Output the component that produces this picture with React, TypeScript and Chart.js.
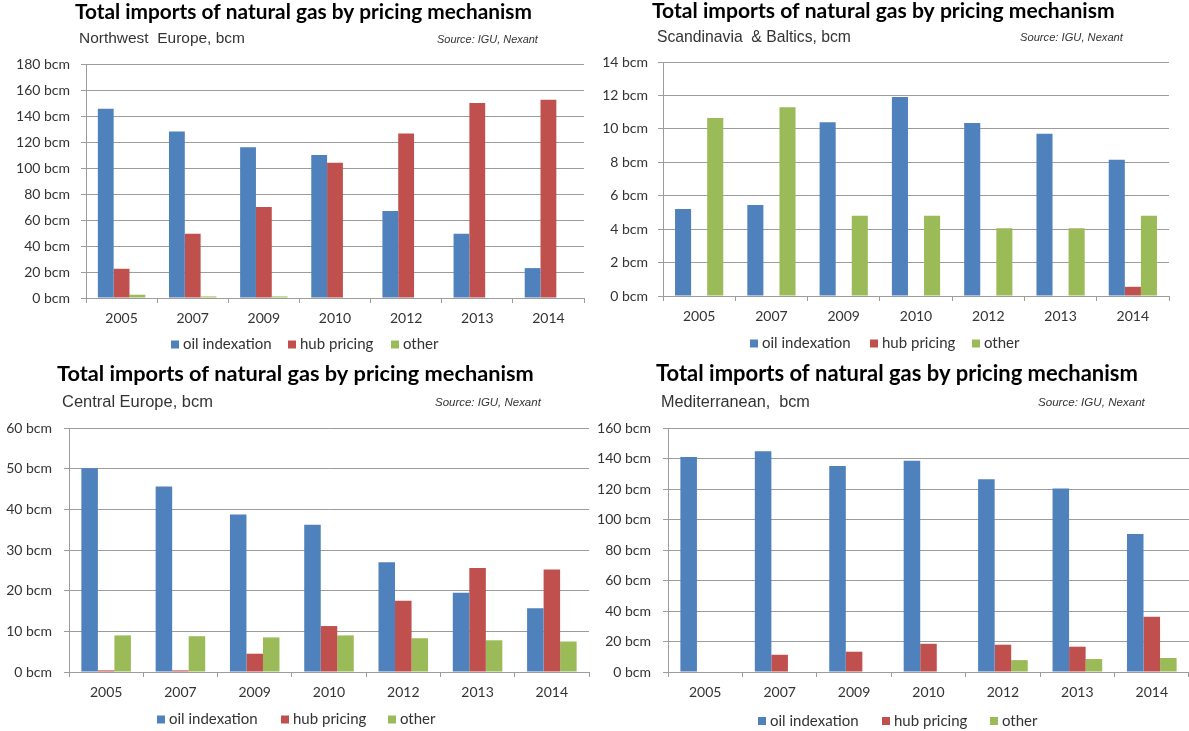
import React, { useEffect, useRef } from 'react';
import { Chart, registerables } from 'chart.js';

Chart.register(...registerables);

// ---------- DATA ----------
const categories = ['2005', '2007', '2009', '2010', '2012', '2013', '2014'];
const seriesNames = ['oil indexation', 'hub pricing', 'other'];
const chartTitle = 'Total imports of natural gas by pricing mechanism';
const sourceText = 'Source: IGU, Nexant';
const unitSuffix = ' bcm';

// Northwest Europe
const nwSubtitle = 'Northwest  Europe, bcm';
const nwOil = [145.5, 128, 116, 110, 67, 49.5, 23];
const nwHub = [22.5, 49.5, 70, 104, 126.5, 150, 152.5];
const nwOther = [2.5, 1.2, 1.2, 0, 0, 0, 0];
const nwAxis = [0, 180, 20];

// Scandinavia & Baltics
const sbSubtitle = 'Scandinavia  & Baltics, bcm';
const sbOil = [5.2, 5.45, 10.4, 11.9, 10.35, 9.7, 8.15];
const sbHub = [0, 0, 0, 0, 0, 0, 0.55];
const sbOther = [10.65, 11.3, 4.8, 4.8, 4.05, 4.05, 4.8];
const sbAxis = [0, 14, 2];

// Central Europe
const ceSubtitle = 'Central Europe, bcm';
const ceOil = [50.1, 45.6, 38.7, 36.2, 27.0, 19.5, 15.7];
const ceHub = [0.4, 0.4, 4.5, 11.3, 17.5, 25.6, 25.2];
const ceOther = [9.0, 8.8, 8.5, 9.0, 8.3, 7.8, 7.5];
const ceAxis = [0, 60, 10];

// Mediterranean
const meSubtitle = 'Mediterranean,  bcm';
const meOil = [141, 144.7, 135.1, 138.6, 126.4, 120.3, 90.5];
const meHub = [0, 11.3, 13.3, 18.5, 17.9, 16.6, 36.2];
const meOther = [0, 0, 0, 0, 7.8, 8.5, 9.2];
const meAxis = [0, 160, 20];

// ---------- STYLE ----------
const seriesColors = ['#4F81BD', '#C0504D', '#9BBB59'];
const gridColor = '#9c9c9c';
const tickColor = '#333333';

type Layout = {
  left: number; top: number; w: number; h: number;
  plot: { left: number; right: number; top: number; bottom: number };
  title: { x: number; y: number; w: number };
  sub: { x: number; y: number; w: number };
  src: { x: number; y: number; w: number };
  legend: { y: number; xs: number[] };
  yPad: number;
};

const layouts: Layout[] = [
  {
    left: 0, top: 0, w: 595, h: 360,
    plot: { left: 86, right: 584, top: 64, bottom: 298 },
    title: { x: 75, y: 18.5, w: 457 },
    sub: { x: 79, y: 43, w: 166 },
    src: { x: 437, y: 42.5, w: 101 },
    legend: { y: 344.5, xs: [171, 288, 391] },
    yPad: 11,
  },
  {
    left: 595, top: 0, w: 594, h: 360,
    plot: { left: 68, right: 574, top: 62, bottom: 296 },
    title: { x: 57, y: 17.5, w: 463 },
    sub: { x: 62, y: 42, w: 194 },
    src: { x: 425, y: 41, w: 103 },
    legend: { y: 343.5, xs: [155, 275, 377] },
    yPad: 10,
  },
  {
    left: 0, top: 360, w: 595, h: 371,
    plot: { left: 69, right: 589, top: 68, bottom: 312 },
    title: { x: 57, y: 21, w: 477 },
    sub: { x: 62, y: 47, w: 151 },
    src: { x: 435, y: 45.5, w: 106 },
    legend: { y: 359.5, xs: [157, 281, 388] },
    yPad: 12,
  },
  {
    left: 595, top: 360, w: 594, h: 371,
    plot: { left: 73, right: 594, top: 68, bottom: 312 },
    title: { x: 61, y: 21, w: 482 },
    sub: { x: 66, y: 47, w: 149 },
    src: { x: 443, y: 46, w: 107 },
    legend: { y: 361, xs: [163, 287, 395] },
    yPad: 12,
  },
];

function fitFont(ctx: CanvasRenderingContext2D, text: string, style: string, family: string, target: number) {
  ctx.font = `${style} 20px ${family}`;
  const w = ctx.measureText(text).width;
  const size = (20 * target) / w;
  ctx.font = `${style} ${size}px ${family}`;
}

const headerPlugin = {
  id: 'headerPlugin',
  afterDraw(chart: any) {
    const opts = chart.options.plugins.headerPlugin;
    if (!opts) return;
    const L: Layout = opts.layout;
    const ctx: CanvasRenderingContext2D = chart.ctx;
    ctx.save();
    ctx.textBaseline = 'alphabetic';
    ctx.textAlign = 'left';
    // title
    fitFont(ctx, chartTitle, 'bold', 'Lato', L.title.w);
    ctx.fillStyle = '#000000';
    ctx.fillText(chartTitle, L.title.x, L.title.y);
    // subtitle
    fitFont(ctx, opts.subtitle, 'normal', '"Liberation Sans"', L.sub.w);
    ctx.fillStyle = '#333333';
    ctx.fillText(opts.subtitle, L.sub.x, L.sub.y);
    // source
    fitFont(ctx, sourceText, 'italic', '"Liberation Sans"', L.src.w);
    ctx.fillStyle = '#333333';
    ctx.fillText(sourceText, L.src.x, L.src.y);
    // legend
    ctx.font = '15px Lato';
    ctx.textBaseline = 'middle';
    chart.data.datasets.forEach((ds: any, i: number) => {
      const x = L.legend.xs[i];
      ctx.fillStyle = ds.backgroundColor;
      ctx.fillRect(x, L.legend.y - 4, 8, 8);
      ctx.fillStyle = tickColor;
      ctx.fillText(ds.label, x + 12, L.legend.y);
    });
    ctx.restore();
  },
};

function Panel({ layout, subtitle, series, axis }: { layout: Layout; subtitle: string; series: number[][]; axis: number[] }) {
  const ref = useRef<HTMLCanvasElement>(null);
  useEffect(() => {
    if (!ref.current) return;
    const L = layout;
    const chart = new Chart(ref.current, {
      type: 'bar',
      data: {
        labels: categories,
        datasets: series.map((vals, i) => ({
          label: seriesNames[i],
          data: vals,
          backgroundColor: seriesColors[i],
          borderWidth: 0,
          categoryPercentage: 0.667,
          barPercentage: 1,
        })),
      },
      options: {
        responsive: false,
        animation: false,
        devicePixelRatio: 1,
        layout: {
          padding: { left: 0, top: L.plot.top, right: L.w - L.plot.right, bottom: 0 },
        },
        plugins: {
          legend: { display: false },
          tooltip: { enabled: false },
          title: { display: false },
          headerPlugin: { layout: L, subtitle },
        } as any,
        scales: {
          x: {
            offset: true,
            grid: {
              display: true,
              drawOnChartArea: false,
              drawTicks: true,
              tickLength: 5,
              color: gridColor,
              offset: true,
            },
            border: { display: true, color: gridColor },
            ticks: { color: tickColor, font: { family: 'Lato', size: 14 }, padding: 7, maxRotation: 0 },
            afterFit: (scale: any) => { scale.height = L.h - L.plot.bottom; },
          },
          y: {
            min: axis[0],
            max: axis[1],
            ticks: {
              stepSize: axis[2],
              color: tickColor,
              font: { family: 'Lato', size: 14 },
              padding: L.yPad,
              callback: (v: any) => `${v}${unitSuffix}`,
            },
            grid: { color: gridColor, drawTicks: true, tickLength: 5 },
            border: { display: true, color: gridColor },
            afterFit: (scale: any) => { scale.width = L.plot.left; },
          },
        },
      } as any,
      plugins: [headerPlugin],
    });
    return () => chart.destroy();
  }, []);
  return (
    <canvas
      ref={ref}
      width={layout.w}
      height={layout.h}
      style={{ position: 'absolute', left: layout.left, top: layout.top, width: layout.w, height: layout.h }}
    />
  );
}

export default function App() {
  return (
    <div style={{ position: 'absolute', left: 0, top: 0, width: 1189, height: 731, background: '#ffffff', overflow: 'hidden' }}>
      <Panel layout={layouts[0]} subtitle={nwSubtitle} series={[nwOil, nwHub, nwOther]} axis={nwAxis} />
      <Panel layout={layouts[1]} subtitle={sbSubtitle} series={[sbOil, sbHub, sbOther]} axis={sbAxis} />
      <Panel layout={layouts[2]} subtitle={ceSubtitle} series={[ceOil, ceHub, ceOther]} axis={ceAxis} />
      <Panel layout={layouts[3]} subtitle={meSubtitle} series={[meOil, meHub, meOther]} axis={meAxis} />
    </div>
  );
}
